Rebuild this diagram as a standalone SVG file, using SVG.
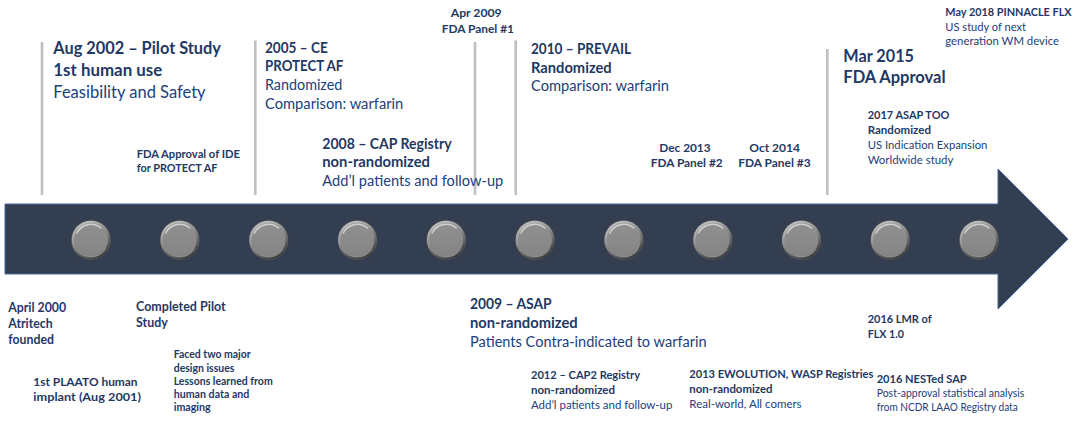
<svg xmlns="http://www.w3.org/2000/svg" xmlns:xlink="http://www.w3.org/1999/xlink" width="1080" height="423" viewBox="0 0 1080 423">
<style>
text{font-family:Lato,"Open Sans","Liberation Sans",sans-serif;fill:#1f3864;}
.b{font-weight:bold;}
.r{font-weight:normal;fill:#22407a;}
.s16{font-size:16.6px;}
.s14{font-size:14.6px;}
.s12{font-size:12.5px;}
.s117{font-size:12.1px;}
.s11{font-size:11.5px;}
.s10{font-size:10.4px;}
.tick{stroke:#bfbfbf;stroke-width:2.6;fill:none;}
</style>
<defs>
<linearGradient id="rim" x1="0.25" y1="0" x2="0.75" y2="1">
<stop offset="0" stop-color="#c4c4c4"/>
<stop offset="0.45" stop-color="#8c8c8c"/>
<stop offset="1" stop-color="#2f2f2f"/>
</linearGradient>
<linearGradient id="face" x1="0" y1="0" x2="0" y2="1">
<stop offset="0" stop-color="#909090"/>
<stop offset="1" stop-color="#848484"/>
</linearGradient>
<g id="bead">
<circle r="19.8" fill="#5a5a5a"/>
<circle r="19.3" fill="url(#rim)"/>
<circle r="17" fill="url(#face)"/>
<path d="M-14,-7 A15.5,15.5 0 0 1 10,-12" fill="none" stroke="#dcdcdc" stroke-width="1.6" stroke-opacity="0.85" stroke-linecap="round"/>
<path d="M-15,9 A17.8,17.8 0 0 0 15,9" fill="none" stroke="#a8a8a8" stroke-width="0.8" stroke-opacity="0.7"/>
</g>
</defs>
<rect width="1080" height="423" fill="#ffffff"/>

<g id="connectors">
<line class="tick" x1="42" y1="42" x2="42" y2="195"/>
<line class="tick" x1="255.3" y1="40.5" x2="255.3" y2="195"/>
<line class="tick" x1="475" y1="42" x2="475" y2="195"/>
<line class="tick" x1="515.7" y1="40.5" x2="515.7" y2="195"/>
<line class="tick" x1="827.3" y1="49" x2="827.3" y2="195"/>
</g>

<g id="timeline-arrow">
<path d="M5,204 H998 V169 L1068,239 L998,309 V274 H5 Z" fill="#333e50" stroke="#4468a0" stroke-width="1"/>
</g>

<g id="markers">
<use xlink:href="#bead" x="91" y="240"/>
<use xlink:href="#bead" x="179.8" y="240"/>
<use xlink:href="#bead" x="268.6" y="240"/>
<use xlink:href="#bead" x="357.4" y="240"/>
<use xlink:href="#bead" x="446.2" y="240"/>
<use xlink:href="#bead" x="535" y="240"/>
<use xlink:href="#bead" x="623.8" y="240"/>
<use xlink:href="#bead" x="712.6" y="240"/>
<use xlink:href="#bead" x="801.4" y="240"/>
<use xlink:href="#bead" x="890.2" y="240"/>
<use xlink:href="#bead" x="979" y="240"/>
</g>

<g id="e-aug2002">
<text class="b s16" x="53.3" y="54" textLength="167.7" lengthAdjust="spacingAndGlyphs">Aug 2002 – Pilot Study</text>
<text class="b s16" x="53.3" y="76" textLength="109" lengthAdjust="spacingAndGlyphs">1st human use</text>
<text class="r s16" x="53.3" y="97.5" textLength="152.3" lengthAdjust="spacingAndGlyphs">Feasibility and Safety</text>
</g>

<g id="e-2005">
<text class="b s14" x="265" y="52.7" textLength="62.7" lengthAdjust="spacingAndGlyphs">2005 – CE</text>
<text class="b s14" x="265" y="71" textLength="78.3" lengthAdjust="spacingAndGlyphs">PROTECT AF</text>
<text class="r s14" x="265" y="90" textLength="77.3" lengthAdjust="spacingAndGlyphs">Randomized</text>
<text class="r s14" x="265" y="109" textLength="138.3" lengthAdjust="spacingAndGlyphs">Comparison: warfarin</text>
</g>

<g id="e-ide">
<text class="b s11" x="136.7" y="157.7" textLength="103.3" lengthAdjust="spacingAndGlyphs">FDA Approval of IDE</text>
<text class="b s11" x="136.7" y="172.3" textLength="80.7" lengthAdjust="spacingAndGlyphs">for PROTECT AF</text>
</g>

<g id="e-2008">
<text class="b s14" x="322.3" y="149" textLength="129.3" lengthAdjust="spacingAndGlyphs">2008 – CAP Registry</text>
<text class="b s14" x="322.3" y="167.3" textLength="107.7" lengthAdjust="spacingAndGlyphs">non-randomized</text>
<text class="r s14" x="322.3" y="185.5" textLength="181" lengthAdjust="spacingAndGlyphs">Add’l patients and follow-up</text>
</g>

<g id="e-panel1">
<text class="b s117" x="450.7" y="16.7" textLength="51" lengthAdjust="spacingAndGlyphs">Apr 2009</text>
<text class="b s117" x="441.7" y="32.7" textLength="72.3" lengthAdjust="spacingAndGlyphs">FDA Panel #1</text>
</g>

<g id="e-2010">
<text class="b s14" x="531" y="54.3" textLength="100" lengthAdjust="spacingAndGlyphs">2010 – PREVAIL</text>
<text class="b s14" x="531" y="72.7" textLength="80.7" lengthAdjust="spacingAndGlyphs">Randomized</text>
<text class="r s14" x="531" y="91.3" textLength="138" lengthAdjust="spacingAndGlyphs">Comparison: warfarin</text>
</g>

<g id="e-panel2">
<text class="b s117" x="659.3" y="151.7" textLength="51.3" lengthAdjust="spacingAndGlyphs">Dec 2013</text>
<text class="b s117" x="650.7" y="167.3" textLength="72" lengthAdjust="spacingAndGlyphs">FDA Panel #2</text>
</g>

<g id="e-panel3">
<text class="b s117" x="749.3" y="151.7" textLength="50.7" lengthAdjust="spacingAndGlyphs">Oct 2014</text>
<text class="b s117" x="738.3" y="167.3" textLength="72.3" lengthAdjust="spacingAndGlyphs">FDA Panel #3</text>
</g>

<g id="e-2015">
<text class="b s16" x="843.3" y="61.7" textLength="70.7" lengthAdjust="spacingAndGlyphs">Mar 2015</text>
<text class="b s16" x="843.3" y="82.7" textLength="102.3" lengthAdjust="spacingAndGlyphs">FDA Approval</text>
</g>

<g id="e-2018">
<text class="b s11" x="945.3" y="15.7" textLength="126.3" lengthAdjust="spacingAndGlyphs">May 2018 PINNACLE FLX</text>
<text class="r s11" x="945.3" y="30.7" textLength="80.7" lengthAdjust="spacingAndGlyphs">US study of next</text>
<text class="r s11" x="945.3" y="45" textLength="113.7" lengthAdjust="spacingAndGlyphs">generation WM device</text>
</g>

<g id="e-2017">
<text class="b s11" x="867.7" y="119.3" textLength="81.7" lengthAdjust="spacingAndGlyphs">2017 ASAP TOO</text>
<text class="b s11" x="867.7" y="134.3" textLength="63.3" lengthAdjust="spacingAndGlyphs">Randomized</text>
<text class="r s11" x="867.7" y="149" textLength="119.7" lengthAdjust="spacingAndGlyphs">US Indication Expansion</text>
<text class="r s11" x="867.7" y="164" textLength="85.7" lengthAdjust="spacingAndGlyphs">Worldwide study</text>
</g>

<g id="e-2000">
<text class="b s12" x="8.3" y="312.3" textLength="57.7" lengthAdjust="spacingAndGlyphs">April 2000</text>
<text class="b s12" x="8.3" y="328" textLength="44.3" lengthAdjust="spacingAndGlyphs">Atritech</text>
<text class="b s12" x="8.3" y="344.3" textLength="45.7" lengthAdjust="spacingAndGlyphs">founded</text>
</g>

<g id="e-pilot">
<text class="b s12" x="136" y="310.7" textLength="89.7" lengthAdjust="spacingAndGlyphs">Completed Pilot</text>
<text class="b s12" x="136" y="326.7" textLength="31.7" lengthAdjust="spacingAndGlyphs">Study</text>
</g>

<g id="e-plaato">
<text class="b s117" x="33.3" y="385.7" textLength="104.3" lengthAdjust="spacingAndGlyphs">1st PLAATO human</text>
<text class="b s117" x="33.3" y="401" textLength="107.7" lengthAdjust="spacingAndGlyphs">implant (Aug 2001)</text>
</g>

<g id="e-issues">
<text class="b s10" x="173.7" y="358.3" textLength="77" lengthAdjust="spacingAndGlyphs">Faced two major</text>
<text class="b s10" x="173.7" y="371.7" textLength="60.7" lengthAdjust="spacingAndGlyphs">design issues</text>
<text class="b s10" x="173.7" y="385" textLength="99" lengthAdjust="spacingAndGlyphs">Lessons learned from</text>
<text class="b s10" x="173.7" y="398.3" textLength="75.7" lengthAdjust="spacingAndGlyphs">human data and</text>
<text class="b s10" x="173.7" y="411" textLength="37" lengthAdjust="spacingAndGlyphs">imaging</text>
</g>

<g id="e-2009">
<text class="b s14" x="470" y="309.3" textLength="81.7" lengthAdjust="spacingAndGlyphs">2009 – ASAP</text>
<text class="b s14" x="470" y="327.7" textLength="107.7" lengthAdjust="spacingAndGlyphs">non-randomized</text>
<text class="r s14" x="470" y="346.7" textLength="236.7" lengthAdjust="spacingAndGlyphs">Patients Contra-indicated to warfarin</text>
</g>

<g id="e-2012">
<text class="b s11" x="531" y="379.3" textLength="109" lengthAdjust="spacingAndGlyphs">2012 – CAP2 Registry</text>
<text class="b s11" x="531" y="394" textLength="84" lengthAdjust="spacingAndGlyphs">non-randomized</text>
<text class="r s11" x="531" y="409" textLength="141.3" lengthAdjust="spacingAndGlyphs">Add’l patients and follow-up</text>
</g>

<g id="e-2013">
<text class="b s11" x="689.3" y="378.3" textLength="184" lengthAdjust="spacingAndGlyphs">2013 EWOLUTION, WASP Registries</text>
<text class="b s11" x="689.3" y="393.3" textLength="83.3" lengthAdjust="spacingAndGlyphs">non-randomized</text>
<text class="r s11" x="689.3" y="407.7" textLength="112.3" lengthAdjust="spacingAndGlyphs">Real-world, All comers</text>
</g>

<g id="e-lmr">
<text class="b s11" x="867.7" y="322.7" textLength="64" lengthAdjust="spacingAndGlyphs">2016 LMR of</text>
<text class="b s11" x="867.7" y="337.7" textLength="36.3" lengthAdjust="spacingAndGlyphs">FLX 1.0</text>
</g>

<g id="e-nested">
<text class="b s11" x="876.7" y="382.7" textLength="90" lengthAdjust="spacingAndGlyphs">2016 NESTed SAP</text>
<text class="r s11" x="876.7" y="397.3" textLength="147.7" lengthAdjust="spacingAndGlyphs">Post-approval statistical analysis</text>
<text class="r s11" x="876.7" y="410.7" textLength="141" lengthAdjust="spacingAndGlyphs">from NCDR LAAO Registry data</text>
</g>
</svg>
